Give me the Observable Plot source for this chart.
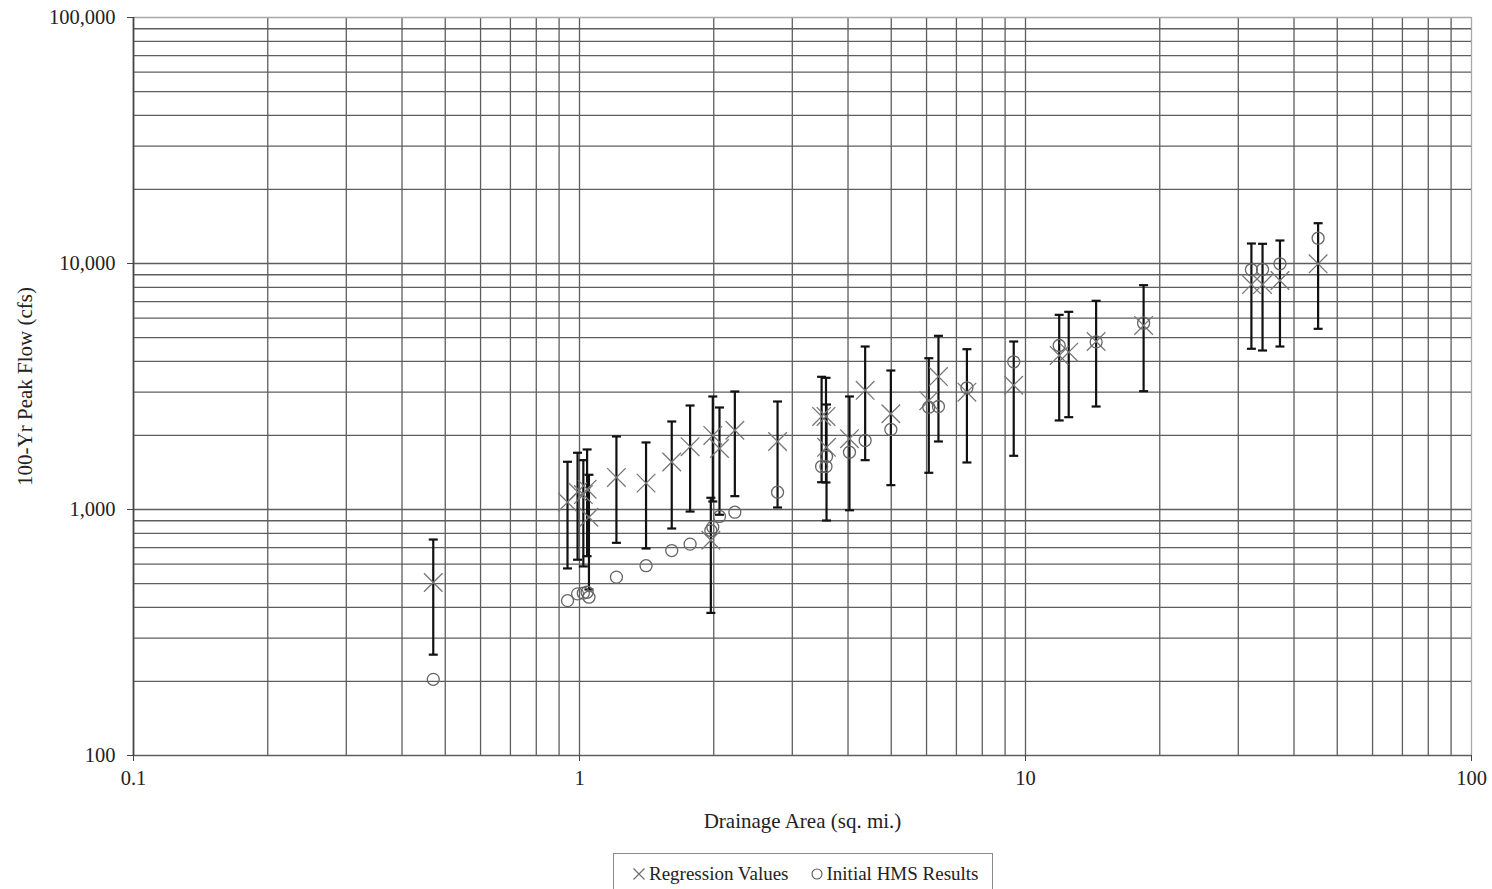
<!DOCTYPE html>
<html>
<head>
<meta charset="utf-8">
<script src="https://cdn.jsdelivr.net/npm/d3@7"></script>
<script src="https://cdn.jsdelivr.net/npm/@observablehq/plot@0.6"></script>
<style>
  html, body { margin: 0; padding: 0; background: #fff; }
  #wrap { position: relative; width: 1492px; height: 889px; overflow: hidden; font-family: "Liberation Serif", "Times New Roman", serif; }
  #legend {
    position: absolute; left: 613px; top: 853px; width: 380px; height: 40px;
    border: 1px solid #8a8a8a; box-sizing: border-box;
    display: flex; align-items: flex-start; padding-top: 9px; padding-left: 18px; justify-content: flex-start;
    font-size: 19px; color: #222; gap: 22px;
  }
  #legend span { display: inline-flex; align-items: center; white-space: nowrap; }
  #legend svg { margin-right: 3px; }
</style>
</head>
<body>
<div id="wrap">
  <div id="chart"></div>
  <div id="legend">
    <span><svg width="14" height="14"><path d="M1.5,1.5L12.5,12.5M1.5,12.5L12.5,1.5" stroke="#6e6e6e" stroke-width="1.2"/></svg>Regression Values</span>
    <span><svg width="13" height="14"><circle cx="6" cy="7" r="5" fill="none" stroke="#555" stroke-width="1.1"/></svg>Initial HMS Results</span>
  </div>
</div>
<script>
// Drainage area of each sub-basin (sq. mi.)
const areas = [0.47, 0.94, 0.99, 1.02, 1.04, 1.05, 1.21, 1.41, 1.61, 1.77, 1.97, 1.99, 2.06, 2.23, 2.78,
  3.49, 3.57, 3.58, 4.03, 4.37, 4.99, 6.07, 6.38, 7.39, 9.41, 11.9, 12.5, 14.4, 18.4, 32.1, 34.0, 37.2, 45.3];
// 100-yr peak flow from regression equations (cfs)
const regression = [505, 1070, 1180, 1150, 1210, 930, 1350, 1280, 1560, 1800, 750, 2000, 1770, 2100, 1890,
  2390, 2390, 1790, 1940, 3050, 2450, 2770, 3470, 3000, 3200, 4230, 4360, 4820, 5600, 8210, 8210, 8530, 9970];
// 100-yr peak flow from the initial HMS model (cfs); null where no result
const hms = [204, 426, 454, 457, 461, 440, 531, 591, 681, 723, 821, 848, 937, 975, 1176,
  1495, 1495, 1642, 1710, 1908, 2115, 2605, 2622, 3124, 3985, 4642, null, 4800, 5720, 9430, 9460, 9970, 12670];
// Regression error-bar limits (cfs)
const lower = [257, 576, 625, 587, 646, 473, 732, 694, 837, 981, 380, 1078, 952, 1133, 1019,
  1291, 1288, 902, 993, 1587, 1256, 1410, 1890, 1553, 1653, 2301, 2373, 2622, 3027, 4501, 4430, 4598, 5427];
const upper = [755, 1563, 1701, 1587, 1754, 1384, 1981, 1873, 2279, 2647, 1116, 2880, 2598, 3018, 2748,
  3463, 3430, 2672, 2880, 4598, 3673, 4121, 5082, 4484, 4818, 6185, 6362, 7053, 8163, 12058, 12024, 12403, 14580];

// Axis ticks and log grid lines
const xTicks = [0.1, 1, 10, 100];
const yTicks = [100, 1000, 10000, 100000];
const xGrid = [0.1,0.2,0.3,0.4,0.5,0.6,0.7,0.8,0.9,1,2,3,4,5,6,7,8,9,10,20,30,40,50,60,70,80,90,100];
const yGrid = [100,200,300,400,500,600,700,800,900,1000,2000,3000,4000,5000,6000,7000,8000,9000,
  10000,20000,30000,40000,50000,60000,70000,80000,90000,100000];

const rows = areas.map((a, i) => ({area: a, reg: regression[i], hms: hms[i], lo: lower[i], hi: upper[i]}));

// Horizontal cap for the error bars
const capSymbol = {draw(ctx) { ctx.moveTo(-4.5, 0); ctx.lineTo(4.5, 0); }};

const gridColor = "#5e5e5e";
const chart = Plot.plot({
  width: 1492,
  height: 848,
  marginTop: 17,
  marginBottom: 93,
  marginLeft: 133,
  marginRight: 21,
  style: {fontFamily: "'Liberation Serif', 'Times New Roman', serif", fontSize: "20.5px", background: "#fff", color: "#222"},
  x: {type: "log", domain: [0.1, 100]},
  y: {type: "log", domain: [100, 100000]},
  marks: [
    Plot.ruleX(xGrid.filter(d => d < 100), {stroke: gridColor, strokeWidth: 1.3, strokeOpacity: 1}),
    Plot.ruleX([100], {stroke: "#a8a8a8", strokeWidth: 1.3}),
    Plot.ruleY(yGrid.filter(d => d < 100000), {stroke: gridColor, strokeWidth: 1.3, strokeOpacity: 1}),
    Plot.ruleY([100000], {stroke: "#a8a8a8", strokeWidth: 1.3}),
    Plot.ruleX([0.1], {stroke: "#444", strokeWidth: 1.6}),
    Plot.axisX({ticks: xTicks, tickFormat: d => String(d), tickSize: 6, tickPadding: 9, stroke: "#444", label: null}),
    Plot.axisY({ticks: yTicks, tickFormat: d3.format(","), tickSize: 6, tickPadding: 12, stroke: "#444", label: null}),
    Plot.text(["Drainage Area (sq. mi.)"], {frameAnchor: "bottom", dy: 66, textAnchor: "middle", lineAnchor: "middle", fontSize: 21}),
    Plot.text(["100-Yr Peak Flow (cfs)"], {frameAnchor: "left", dx: -108, rotate: -90, textAnchor: "middle", lineAnchor: "middle", fontSize: 21}),
    // error bars
    Plot.ruleX(rows, {x: "area", y1: "lo", y2: "hi", stroke: "#111", strokeWidth: 2.2}),
    Plot.dot(rows, {x: "area", y: "lo", symbol: capSymbol, r: 4, stroke: "#111", strokeWidth: 2.2}),
    Plot.dot(rows, {x: "area", y: "hi", symbol: capSymbol, r: 4, stroke: "#111", strokeWidth: 2.2}),
    // regression values
    Plot.dot(rows, {x: "area", y: "reg", symbol: "times", r: 8.5, stroke: "#777", strokeWidth: 1.3}),
    // initial HMS results
    Plot.dot(rows.filter(d => d.hms != null), {x: "area", y: "hms", symbol: "circle", r: 6, fill: "none", stroke: "#666", strokeWidth: 1.3})
  ]
});
document.getElementById("chart").appendChild(chart);
</script>
</body>
</html>
